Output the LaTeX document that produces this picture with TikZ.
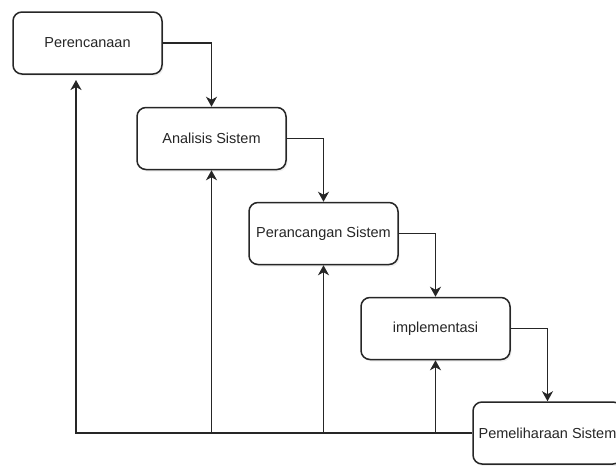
\documentclass[tikz,border=0pt]{standalone}
\usepackage{fontspec}
\setmainfont{Liberation Sans}
\usetikzlibrary{arrows.meta,positioning,shadows}

\begin{document}
\begin{tikzpicture}[node distance=95pt and 112pt, on grid,
            >={Stealth[length=10pt,width=11pt,inset=3pt]},
            flow/.style={->, line width=1.5pt, draw=black!85}, % every connector ends in an arrow
            every edge/.style={flow},
            phase/.style={draw=black!85, line width=1.5pt, rounded corners=9pt, minimum width=149pt, minimum height=62pt,
                inner sep=0pt, fill=white, text=black!85, font=\fontsize{14.5}{17}\selectfont,
                drop shadow={opacity=0.12, shadow xshift=1.5pt, shadow yshift=-2pt}}, % one box per step
            elbow/.style={to path={-| (\tikztotarget)}}, % right, then down
        ]
        \useasboundingbox (0,0) rectangle (616pt,-466pt);

        \node (plan)     [phase] at (87.5pt,-43pt)                         {Perencanaan};
        \node (analisis) [phase, below right=95.5pt and 124pt of plan]     {Analisis Sistem};
        \node (rancang)  [phase, below right=of analisis]                  {Perancangan Sistem};
        \node (impl)     [phase, below right=of rancang]                   {implementasi};
        \node (pelihara) [phase, below right=104.5pt and 112pt of impl]    {Pemeliharaan Sistem};

        \coordinate (planin) at (76pt,-80pt);
        \coordinate (bottom) at (planin |- pelihara.west);

        \path
        (plan.east) edge[elbow] (analisis.north)
        (analisis.east) edge[elbow] (rancang.north)
        (rancang.east) edge[elbow] (impl.north)
        (impl.east) edge[elbow] (pelihara.north)

        (bottom -| analisis.south) edge (analisis.south)
        (bottom -| rancang.south) edge (rancang.south)
        (bottom -| impl.south) edge (impl.south);

        \draw[flow] (pelihara.west) -- (bottom) -- (planin);
    \end{tikzpicture}
\end{document}
